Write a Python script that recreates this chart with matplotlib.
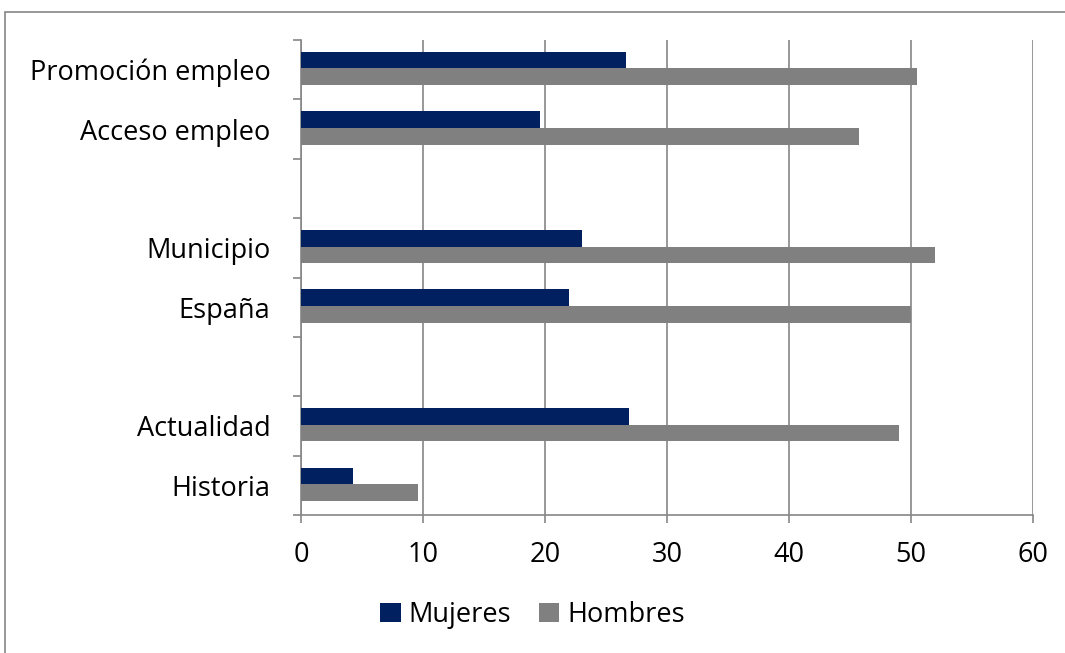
import matplotlib
matplotlib.use("Agg")
import matplotlib.pyplot as plt
from matplotlib.patches import Rectangle

# slots bottom -> top, blank strings are the empty gap slots
categories = ["Historia", "Actualidad", "", "España", "Municipio", "", "Acceso empleo", "Promoción empleo"]
mujeres = [4.3, 26.9, None, 22.0, 23.0, None, 19.6, 26.6]
hombres = [9.6, 49.0, None, 50.0, 52.0, None, 45.7, 50.5]
x_ticks = [0, 10, 20, 30, 40, 50, 60]

NAVY = "#002060"
GREY = "#808080"
AXIS = "#868686"

plt.rcParams["font.family"] = ["Open Sans", "DejaVu Sans"]
FS = 19.5

fig = plt.figure(figsize=(10.65, 6.53), dpi=100)
ax = fig.add_axes([301 / 1065, 1 - 515 / 653, (1033 - 301) / 1065, (515 - 40) / 653])

h = 0.28
for i, (m, hm) in enumerate(zip(mujeres, hombres)):
    if m is None:
        continue
    ax.barh(i + h / 2 + 0.02, m, h, color=NAVY, label="Mujeres" if i == 0 else None, zorder=3)
    ax.barh(i - h / 2 + 0.02, hm, h, color=GREY, label="Hombres" if i == 0 else None, zorder=3)

ax.set_xlim(0, 60)
ax.set_ylim(-0.5, len(categories) - 0.5)
ax.set_xticks(x_ticks)
ax.set_xticklabels([str(t) for t in x_ticks], fontsize=FS)
ax.set_yticks(range(len(categories)))
ax.set_yticklabels(categories, fontsize=FS)
ax.tick_params(axis="y", length=0, pad=22)
ax.set_yticks([i - 0.5 for i in range(len(categories) + 1)], minor=True)
ax.tick_params(axis="y", which="minor", length=6, color=AXIS, width=1.2)
ax.tick_params(axis="x", length=6, color=AXIS, width=1.2, pad=13)
ax.grid(axis="x", color=AXIS, lw=1.2, zorder=0)
for s in ["top", "right"]:
    ax.spines[s].set_visible(False)
for s in ["left", "bottom"]:
    ax.spines[s].set_color(AXIS)
    ax.spines[s].set_linewidth(1.2)

fig.legend(loc="center", bbox_to_anchor=(0.5, 1 - 615 / 653), ncol=2, frameon=False,
           fontsize=FS, handlelength=0.75, handleheight=0.75, handletextpad=0.3, columnspacing=1.0)

fig.patches.append(Rectangle((5 / 1065, -0.1), 1.2, 1 - 12 / 653 + 0.1, transform=fig.transFigure,
                             fill=False, edgecolor=AXIS, lw=1.2))

fig.savefig("out.png", dpi=100)
